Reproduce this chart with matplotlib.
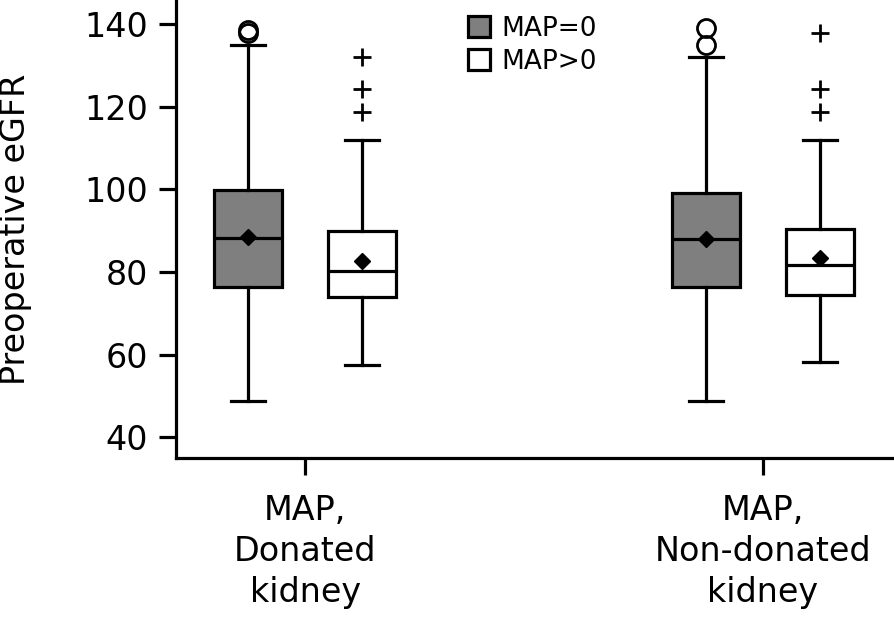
import numpy as np
import matplotlib
matplotlib.use("Agg")
import matplotlib.pyplot as plt
from matplotlib.patches import Patch

# Werte
gruppen = ["MAP,\nDonated\nkidney", "MAP,\nNon-donated\nkidney"]
serien = ["MAP=0", "MAP>0"]

# je Gruppe: [MAP=0, MAP>0]
unten = [[48.9, 57.4], [48.9, 58.3]]
q1 = [[76.4, 74.0], [76.3, 74.5]]
median = [[88.2, 80.3], [88.0, 81.7]]
q3 = [[99.9, 90.0], [99.1, 90.3]]
oben = [[134.9, 112.0], [131.9, 112.0]]
mittel = [[88.4, 82.6], [88.0, 83.4]]
ausreisser = [[[137.8, 138.5], [118.6, 124.2, 131.9]],
              [[134.9, 139.0], [118.6, 124.2, 137.9]]]

farben = ["#7f7f7f", "white"]
flier_marker = ["o", "+"]

fig = plt.figure(figsize=(8.94, 6.17), dpi=100)
ax = fig.add_axes([176 / 894, 1 - 458 / 617, 1 - 176 / 894, 458 / 617])

versatz = 0.1245
breite = 0.15
lw = 2.3

for s in range(2):
    stats = []
    pos = []
    for g in range(2):
        stats.append(dict(whislo=unten[g][s], q1=q1[g][s], med=median[g][s],
                          q3=q3[g][s], whishi=oben[g][s], mean=mittel[g][s],
                          fliers=ausreisser[g][s]))
        pos.append(g + (-versatz if s == 0 else versatz))
    ax.bxp(stats, positions=pos, widths=breite, capwidths=breite / 2,
           patch_artist=True, showmeans=True,
           boxprops=dict(facecolor=farben[s], edgecolor="black", linewidth=lw),
           medianprops=dict(color="black", linewidth=lw),
           whiskerprops=dict(color="black", linewidth=lw),
           capprops=dict(color="black", linewidth=lw),
           meanprops=dict(marker="D", markerfacecolor="black",
                          markeredgecolor="black", markersize=8.5),
           flierprops=dict(marker=flier_marker[s], markerfacecolor="none",
                           markeredgecolor="black", markersize=13,
                           markeredgewidth=2))

ax.set_xlim(-0.282, 1.286)
ax.set_ylim(35, 145.8)
ax.set_xticks([0, 1])
ax.set_xticklabels(gruppen, fontsize=24, linespacing=1.3)
ax.set_yticks([40, 60, 80, 100, 120, 140])
ax.tick_params(axis="y", labelsize=24, length=12, width=lw, pad=8)
ax.tick_params(axis="x", length=12, width=lw, pad=14)
ax.spines["top"].set_visible(False)
ax.spines["right"].set_visible(False)
ax.spines["left"].set_linewidth(lw)
ax.spines["bottom"].set_linewidth(lw)
ax.set_ylabel("Preoperative eGFR", fontsize=24)
ax.yaxis.set_label_coords(-0.2, 0.5)

handles = [Patch(facecolor=farben[i], edgecolor="black", linewidth=lw,
                 label=serien[i]) for i in range(2)]
ax.legend(handles=handles, loc="upper left",
          bbox_to_anchor=(468 / 894, 1 - 16 / 617),
          bbox_transform=fig.transFigure, frameon=False, fontsize=19,
          handlelength=0.85, handleheight=0.85, handletextpad=0.4,
          labelspacing=0.25, borderpad=0, borderaxespad=0)

fig.savefig("out.png", dpi=100)
